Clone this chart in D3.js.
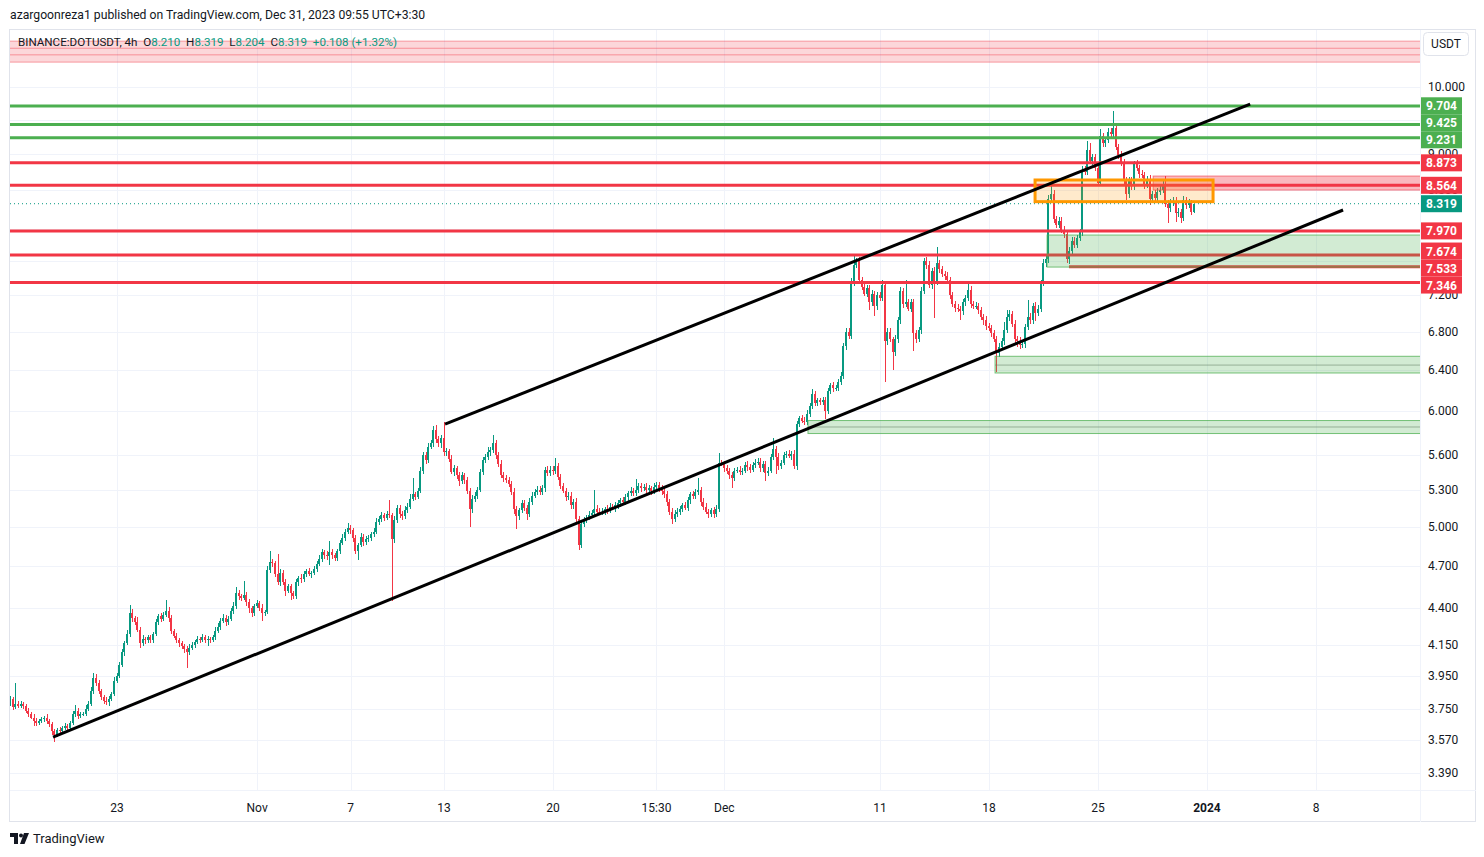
<!DOCTYPE html>
<html><head><meta charset="utf-8">
<script src="https://cdn.jsdelivr.net/npm/d3@7"></script>
<style>
body{margin:0;background:#fff;}
svg{display:block;font-family:Roboto,"Noto Sans",sans-serif;}
.pre{white-space:pre;}
</style></head><body><svg id="c" width="1484" height="857"></svg>
<script>
// ---------- DATA ----------
const firstOpen = 3.78;
// 4h closes, one row per day (Oct 16 03:30 -> Dec 31 03:30, UTC+3:30)
const closes = [
3.81,3.76,3.78,3.77,3.78,3.77,
3.74,3.72,3.70,3.68,3.67,3.68,
3.69,3.70,3.68,3.66,3.62,3.60,
3.63,3.62,3.64,3.65,3.64,3.67,
3.72,3.74,3.71,3.72,3.72,3.75,
3.78,3.86,3.94,3.91,3.86,3.82,
3.80,3.79,3.81,3.84,3.92,3.95,
4.02,4.10,4.16,4.22,4.36,4.33,
4.30,4.25,4.16,4.19,4.18,4.20,
4.18,4.22,4.30,4.34,4.32,4.35,
4.38,4.33,4.24,4.21,4.18,4.16,
4.14,4.12,4.10,4.13,4.15,4.17,
4.19,4.18,4.20,4.18,4.19,4.18,
4.20,4.24,4.27,4.31,4.33,4.30,
4.32,4.38,4.41,4.50,4.48,4.47,
4.49,4.44,4.40,4.36,4.41,4.43,
4.40,4.36,4.37,4.67,4.73,4.72,
4.64,4.58,4.65,4.58,4.52,4.55,
4.50,4.48,4.58,4.61,4.60,4.64,
4.66,4.64,4.65,4.68,4.71,4.75,
4.80,4.78,4.77,4.80,4.78,4.76,
4.81,4.87,4.91,4.96,4.99,4.97,
4.91,4.81,4.86,4.92,4.88,4.90,
4.91,4.94,4.96,5.04,5.06,5.09,
5.07,5.10,5.09,4.90,5.05,5.15,
5.10,5.08,5.13,5.16,5.22,5.26,
5.24,5.29,5.46,5.60,5.55,5.67,
5.70,5.82,5.74,5.70,5.75,5.62,
5.63,5.56,5.45,5.48,5.42,5.37,
5.42,5.38,5.29,5.14,5.22,5.25,
5.30,5.45,5.55,5.58,5.62,5.64,
5.70,5.60,5.52,5.42,5.40,5.38,
5.35,5.28,5.14,5.08,5.13,5.19,
5.15,5.10,5.20,5.25,5.28,5.30,
5.28,5.31,5.47,5.44,5.47,5.46,
5.50,5.41,5.33,5.29,5.24,5.25,
5.17,5.20,5.06,4.86,5.02,5.05,
5.07,5.09,5.11,5.14,5.12,5.11,
5.12,5.14,5.13,5.16,5.15,5.17,
5.19,5.21,5.20,5.24,5.27,5.29,
5.27,5.30,5.33,5.31,5.32,5.30,
5.31,5.29,5.32,5.34,5.31,5.29,
5.26,5.20,5.12,5.06,5.10,5.12,
5.14,5.17,5.15,5.21,5.26,5.25,
5.28,5.30,5.20,5.16,5.12,5.10,
5.13,5.10,5.14,5.53,5.52,5.48,
5.46,5.42,5.40,5.46,5.47,5.45,
5.46,5.51,5.49,5.47,5.51,5.53,
5.54,5.48,5.52,5.44,5.46,5.58,
5.65,5.58,5.50,5.53,5.60,5.61,
5.59,5.61,5.50,5.88,5.93,5.91,
5.90,5.97,6.05,6.16,6.08,6.10,
6.09,6.10,6.00,6.19,6.25,6.22,
6.22,6.28,6.34,6.65,6.80,6.75,
7.35,7.55,7.60,7.38,7.30,7.22,
7.28,7.12,7.22,7.08,7.20,7.17,
7.32,6.70,6.80,6.72,6.58,6.72,
6.92,7.25,7.10,7.12,7.05,7.12,
6.78,6.72,6.82,7.25,7.60,7.55,
7.32,7.48,7.36,7.58,7.50,7.45,
7.42,7.38,7.20,7.10,7.06,7.05,
7.02,7.12,7.17,7.26,7.10,7.08,
7.08,7.03,6.96,6.93,6.86,6.84,
6.78,6.72,6.57,6.64,6.70,6.82,
6.96,6.99,6.88,6.72,6.70,6.66,
6.67,6.85,6.96,6.92,7.08,7.00,
7.05,7.34,7.58,7.62,8.38,8.45,
8.12,8.05,8.10,7.98,7.93,7.62,
7.72,7.85,7.80,7.88,7.95,8.78,
8.75,9.05,8.90,8.95,8.80,8.60,
9.25,9.15,9.20,9.32,9.28,9.38,
9.10,8.98,8.88,8.63,8.45,8.63,
8.55,8.86,8.80,8.72,8.70,8.58,
8.65,8.38,8.45,8.40,8.48,8.50,
8.58,8.32,8.26,8.33,8.36,8.20,
8.21,8.14,8.37,8.30,8.33,8.21,
8.319
];
// upper / lower wick lengths, in tenths of a percent of the body edge
const wickHi = [
4,3,34,4,4,3, 3,4,3,5,4,3, 4,3,5,3,4,3, 3,4,3,5,4,3, 5,9,4,3,4,6, 4,6,8,5,4,3,
3,5,4,3,6,5, 4,5,3,6,14,7, 3,8,4,5,3,4, 4,3,5,4,6,5, 16,5,4,3,4,3, 3,4,5,6,4,3,
4,3,5,3,4,3, 4,6,5,4,6,5, 5,4,6,10,5,4, 22,5,4,3,4,5, 4,5,3,6,17,5, 4,32,5,4,5,3,
4,3,5,4,6,5, 4,5,3,4,5,6, 5,4,6,18,5,4, 4,5,6,4,8,5, 4,5,3,6,4,5, 5,4,6,5,4,5,
4,5,23,4,6,5, 5,4,6,5,8,26, 4,5,6,5,4,6, 5,6,8,5,4,26, 5,4,6,5,4,5, 6,4,5,4,6,5,
4,5,6,5,8,5, 14,5,4,6,5,4, 5,4,6,5,4,5, 4,5,6,5,4,6, 5,6,4,5,6,5, 13,5,4,5,4,5,
5,4,6,5,4,5, 4,6,5,30,6,5, 5,4,6,5,4,5, 5,4,6,5,4,6, 4,17,5,4,5,6, 5,4,6,5,4,5,
6,5,4,5,6,5, 5,4,6,5,4,5, 5,18,4,6,5,4, 4,5,6,16,5,4, 5,4,6,5,4,5, 4,5,6,5,4,6,
5,6,4,5,6,5, 18,5,6,4,5,4, 5,4,6,5,4,5, 5,6,4,8,5,4, 4,5,6,5,4,5, 5,4,6,5,6,5,
6,18,5,6,5,4, 5,6,5,4,6,5, 8,5,6,5,4,6, 5,6,5,36,6,5, 5,6,5,6,5,6, 6,5,6,25,5,6,
5,6,5,6,5,6, 5,6,5,14,6,5, 6,5,6,5,6,5, 5,6,5,6,5,12, 11,6,5,6,5,6, 6,5,27,6,5,6,
6,5,6,5,6,13, 6,5,6,5,6,5, 6,5,6,5,6,5, 6,15,12,6,5,6, 12,6,5,6,5,26, 6,5,6,5,6,5,
6,5,6,5,6,5, 5,6,5,6,5,6, 6,13,5,6,5,6, 6,5,6,5,6,5,
0
];
const wickLo = [
3,4,3,4,3,5, 4,5,3,8,6,4, 3,4,5,4,6,11, 4,3,4,3,5,3, 3,4,5,4,3,3, 3,4,5,6,5,4,
5,4,6,3,4,3, 3,4,5,3,4,6, 5,4,8,5,6,4, 4,5,3,4,5,3, 4,6,5,4,5,6, 5,6,25,4,3,5,
3,4,3,5,9,4, 3,4,3,5,4,6, 4,3,5,4,6,5, 4,6,8,5,4,3, 6,12,4,3,5,6, 5,4,6,5,8,4,
11,5,4,6,5,4, 5,4,6,4,5,3, 4,6,5,14,6,5, 5,4,3,5,4,6, 6,5,14,4,6,5, 4,5,4,3,5,4,
5,4,5,92,6,4, 6,5,4,5,4,3, 5,4,3,5,6,4, 4,5,6,5,7,5, 6,5,4,6,5,7, 5,6,5,28,6,4,
6,4,5,4,5,6, 5,6,5,4,6,5, 6,5,8,20,5,4, 5,9,4,5,4,5, 4,5,6,4,5,6, 5,6,5,4,6,5,
6,5,6,8,5,4, 5,4,5,6,5,4, 4,5,6,5,4,6, 5,6,4,5,6,4, 5,4,6,5,4,5, 4,6,5,4,5,6,
5,6,5,8,5,4, 6,5,4,5,6,5, 5,4,6,5,4,6, 5,6,4,5,4,6, 5,6,16,5,4,5, 5,4,6,5,4,5,
4,5,6,12,5,4, 5,26,6,5,4,5, 4,6,5,6,5,4, 6,5,4,5,6,5, 5,6,13,5,4,6, 4,5,4,5,6,5,
5,6,5,6,5,4, 6,12,5,15,6,5, 5,63,6,5,27,6, 6,5,6,5,4,6, 27,6,5,6,5,6, 5,6,56,5,6,5,
6,5,6,5,6,5, 14,5,6,5,6,5, 5,6,5,8,6,5, 6,5,29,6,5,6, 5,6,5,6,10,6, 5,6,5,6,5,12,
5,6,5,6,5,6, 6,5,6,5,6,5, 8,6,5,6,5,6, 5,6,5,6,5,6, 6,5,6,5,6,5, 5,6,5,6,10,6,
5,6,5,6,5,8, 6,10,6,5,6,5, 5,6,23,6,5,15, 6,8,5,6,5,4,
1
];

const priceTicks = [10, 9, 8.5, 7.2, 6.8, 6.4, 6.0, 5.6, 5.3, 5.0, 4.7, 4.4, 4.15, 3.95, 3.75, 3.57, 3.39];
const gridOnlyTicks = [9.5, 8, 7.6];
const timeTickDates = ["2023-10-23T00:00Z","2023-11-01T00:00Z","2023-11-07T00:00Z","2023-11-13T00:00Z","2023-11-20T00:00Z","2023-11-26T15:30Z","2023-12-01T00:00Z","2023-12-11T00:00Z","2023-12-18T00:00Z","2023-12-25T00:00Z","2024-01-01T00:00Z","2024-01-08T00:00Z"];
const timeTickLabels = ["23","Nov","7","13","20","15:30","Dec","11","18","25","2024","8"];

const greenLevels = [9.704, 9.425, 9.231];
const redLevels = [8.873, 8.564, 7.970, 7.674, 7.346];
const partialRedLevel = {price: 7.533, from: "2023-12-23T03:20Z"};
const lastPrice = 8.319;

const topBandPrices = [10.75, 10.63, 10.52, 10.40];
const greenZones = [
  {from: "2023-12-21T17:30Z", top: 7.918, bottom: 7.528, mid: null},
  {from: "2023-12-18T09:20Z", top: 6.54, bottom: 6.37, mid: 6.45},
  {from: "2023-12-06T09:00Z", top: 5.91, bottom: 5.79, mid: 5.85}
];
const redZone = {from: "2023-12-28T13:00Z", top: 8.69, bottom: 8.50};
const orangeBox = {from: "2023-12-20T23:00Z", to: "2024-01-01T09:20Z", top: 8.636, bottom: 8.346};
const channelLower = [["2023-10-18T21:25Z", 3.587], ["2024-01-09T17:45Z", 8.237]];
const channelUpper = [["2023-11-13T01:40Z", 5.877], ["2024-01-03T18:30Z", 9.735]];

// ---------- LAYOUT ----------
const plotL = 10, plotR = 1420, plotT = 30, plotB = 790, axR = 1476, axB = 822;
const svg = d3.select("#c");
const x = d3.scaleUtc().domain([new Date("2023-10-23T00:00Z"), new Date("2024-01-08T00:00Z")]).range([117, 1316]);
const y = d3.scaleLog().domain([10, 3.39]).range([87, 773]);
const UP = "#089981", DN = "#f23645", GR = "#4caf50";

const t0 = Date.UTC(2023, 9, 16, 3, 30), H4 = 4 * 3600 * 1000;
let prev = firstOpen;
const candles = closes.map((c, i) => {
  const o = prev; prev = c;
  const top = Math.max(o, c), bot = Math.min(o, c);
  return {t: new Date(t0 + i * H4), o, c, h: top * (1 + wickHi[i] / 1000), l: bot * (1 - wickLo[i] / 1000)};
});

svg.append("rect").attr("width", 1484).attr("height", 857).attr("fill", "#fff");

// header
svg.append("text").attr("x", 10).attr("y", 19).attr("font-size", 12.2).attr("fill", "#131722")
  .text("azargoonreza1 published on TradingView.com, Dec 31, 2023 09:55 UTC+3:30");

// clip
svg.append("defs").append("clipPath").attr("id", "plot").append("rect")
  .attr("x", plotL).attr("y", plotT).attr("width", plotR - plotL).attr("height", plotB - plotT);

// grid
const grid = svg.append("g").attr("stroke", "#f0f3fa").attr("stroke-width", 1).attr("shape-rendering", "crispEdges");
priceTicks.concat(gridOnlyTicks).forEach(p => {
  const yy = Math.round(y(p)) + 0.5;
  grid.append("line").attr("x1", plotL).attr("x2", plotR).attr("y1", yy).attr("y2", yy);
});
timeTickDates.forEach(d => {
  const xx = Math.round(x(new Date(d))) + 0.5;
  grid.append("line").attr("x1", xx).attr("x2", xx).attr("y1", plotT).attr("y2", plotB);
});

const plot = svg.append("g").attr("clip-path", "url(#plot)");

// candles
const cg = plot.append("g").attr("shape-rendering", "crispEdges");
candles.forEach(d => {
  const xc = Math.round(x(d.t));
  const col = d.c >= d.o ? UP : DN;
  cg.append("line").attr("x1", xc + 0.5).attr("x2", xc + 0.5).attr("y1", y(d.h)).attr("y2", y(d.l)).attr("stroke", col);
  const yt = y(Math.max(d.o, d.c)), yb = y(Math.min(d.o, d.c));
  cg.append("rect").attr("x", xc - 1).attr("width", 2.4).attr("y", yt).attr("height", Math.max(1, yb - yt)).attr("fill", col);
});

// top red band
plot.append("rect").attr("x", plotL).attr("width", plotR - plotL)
  .attr("y", y(topBandPrices[0])).attr("height", y(topBandPrices[3]) - y(topBandPrices[0]))
  .attr("fill", "rgba(242,54,69,0.2)");
topBandPrices.forEach(p => plot.append("line").attr("x1", plotL).attr("x2", plotR)
  .attr("y1", y(p)).attr("y2", y(p)).attr("stroke", "rgba(242,54,69,0.45)").attr("stroke-width", 1));

// current price dotted line
plot.append("line").attr("x1", plotL).attr("x2", plotR).attr("y1", y(lastPrice)).attr("y2", y(lastPrice))
  .attr("stroke", UP).attr("stroke-width", 1).attr("stroke-dasharray", "1,3");

// horizontal levels
greenLevels.forEach(p => plot.append("line").attr("x1", plotL).attr("x2", plotR).attr("y1", y(p)).attr("y2", y(p))
  .attr("stroke", GR).attr("stroke-width", 3));
redLevels.forEach(p => plot.append("line").attr("x1", plotL).attr("x2", plotR).attr("y1", y(p)).attr("y2", y(p))
  .attr("stroke", DN).attr("stroke-width", 3));
plot.append("line").attr("x1", x(new Date(partialRedLevel.from))).attr("x2", plotR)
  .attr("y1", y(partialRedLevel.price)).attr("y2", y(partialRedLevel.price)).attr("stroke", DN).attr("stroke-width", 3);

// green zones
greenZones.forEach(z => {
  const x0 = x(new Date(z.from));
  plot.append("rect").attr("x", x0).attr("width", plotR - x0 + 5).attr("y", y(z.top)).attr("height", y(z.bottom) - y(z.top))
    .attr("fill", "rgba(76,175,80,0.25)").attr("stroke", "rgba(76,175,80,0.75)").attr("stroke-width", 1);
  if (z.mid) plot.append("line").attr("x1", x0).attr("x2", plotR).attr("y1", y(z.mid)).attr("y2", y(z.mid))
    .attr("stroke", "rgba(100,130,100,0.55)").attr("stroke-width", 1);
});

// red zone on the right
{
  const x0 = x(new Date(redZone.from));
  plot.append("rect").attr("x", x0).attr("width", plotR - x0 + 5).attr("y", y(redZone.top)).attr("height", y(redZone.bottom) - y(redZone.top))
    .attr("fill", "rgba(242,54,69,0.35)").attr("stroke", "rgba(242,54,69,0.6)").attr("stroke-width", 1);
}

// orange box
{
  const x0 = x(new Date(orangeBox.from)), x1 = x(new Date(orangeBox.to));
  plot.append("rect").attr("x", x0).attr("width", x1 - x0).attr("y", y(orangeBox.top)).attr("height", y(orangeBox.bottom) - y(orangeBox.top))
    .attr("fill", "rgba(255,152,0,0.2)").attr("stroke", "#ff9800").attr("stroke-width", 3);
}

// channel lines
const line = d3.line().x(d => x(new Date(d[0]))).y(d => y(d[1]));
[channelLower, channelUpper].forEach(c => plot.append("path").attr("d", line(c))
  .attr("stroke", "#000").attr("stroke-width", 3).attr("fill", "none"));

// legend
const leg = svg.append("text").attr("class", "pre").attr("x", 18).attr("y", 46).attr("font-size", 11.6).attr("fill", "#131722");
[["BINANCE:DOTUSDT, 4h", "#131722"], ["  O", "#131722"], ["8.210", UP], ["  H", "#131722"], ["8.319", UP],
 ["  L", "#131722"], ["8.204", UP], ["  C", "#131722"], ["8.319", UP], ["  +0.108 (+1.32%)", UP]]
 .forEach(s => leg.append("tspan").attr("class", "pre").attr("fill", s[1]).text(s[0]));

// frame
const fr = svg.append("g").attr("stroke", "#e0e3eb").attr("fill", "none").attr("shape-rendering", "crispEdges");
fr.append("rect").attr("x", plotL - 0.5).attr("y", plotT - 0.5).attr("width", axR - plotL).attr("height", axB - plotT);
fr.append("line").attr("x1", plotR + 0.5).attr("x2", plotR + 0.5).attr("y1", plotT).attr("y2", axB).attr("stroke", "#f0f3fa");
fr.append("line").attr("x1", plotL).attr("x2", axR).attr("y1", plotB + 0.5).attr("y2", plotB + 0.5).attr("stroke", "#f0f3fa");

// price axis tick labels
const pa = svg.append("g").attr("font-size", 12).attr("fill", "#131722");
priceTicks.forEach(p => pa.append("text").attr("x", 1428).attr("y", y(p) + 4).text(d3.format(".3f")(p)));

// time axis labels
const ta = svg.append("g").attr("font-size", 12).attr("fill", "#131722").attr("text-anchor", "middle");
timeTickDates.forEach((d, i) => ta.append("text").attr("x", x(new Date(d))).attr("y", 812)
  .attr("font-weight", timeTickLabels[i] === "2024" ? "bold" : "normal").text(timeTickLabels[i]));

// price labels, spread apart so they don't collide
const labels = greenLevels.map(p => ({p, col: GR})).concat(redLevels.map(p => ({p, col: DN})))
  .concat([{p: partialRedLevel.price, col: DN}, {p: lastPrice, col: UP}]);
labels.forEach(l => l.yy = y(l.p));
labels.sort((a, b) => a.yy - b.yy);
const LH = 17;
for (let it = 0; it < 60; it++) {
  for (let i = 1; i < labels.length; i++) {
    const gap = labels[i].yy - labels[i - 1].yy;
    if (gap < LH) { const m = (LH - gap) / 2; labels[i].yy += m; labels[i - 1].yy -= m; }
  }
}
labels.forEach(l => {
  svg.append("rect").attr("x", 1421).attr("y", l.yy - 8.5).attr("width", 41).attr("height", LH).attr("fill", l.col);
  svg.append("text").attr("x", 1441.5).attr("y", l.yy + 4.5).attr("text-anchor", "middle").attr("font-size", 12)
    .attr("font-weight", "bold").attr("fill", "#fff").text(d3.format(".3f")(l.p));
});

// USDT button
svg.append("rect").attr("x", 1423.5).attr("y", 32.5).attr("width", 45).attr("height", 23).attr("rx", 4)
  .attr("fill", "#fff").attr("stroke", "#e0e3eb");
svg.append("text").attr("x", 1446).attr("y", 48).attr("text-anchor", "middle").attr("font-size", 12).attr("fill", "#131722").text("USDT");

// footer logo
const lg = svg.append("g").attr("fill", "#131722");
lg.append("path").attr("d", "M10,833 h8 v11 h-4 v-7 h-4 z");
lg.append("circle").attr("cx", 21).attr("cy", 835.5).attr("r", 2);
lg.append("path").attr("d", "M24,833 h5 l-4.5,11 h-4.5 z");
svg.append("text").attr("x", 33).attr("y", 843).attr("font-size", 13).attr("fill", "#131722").text("TradingView");
</script></body></html>
